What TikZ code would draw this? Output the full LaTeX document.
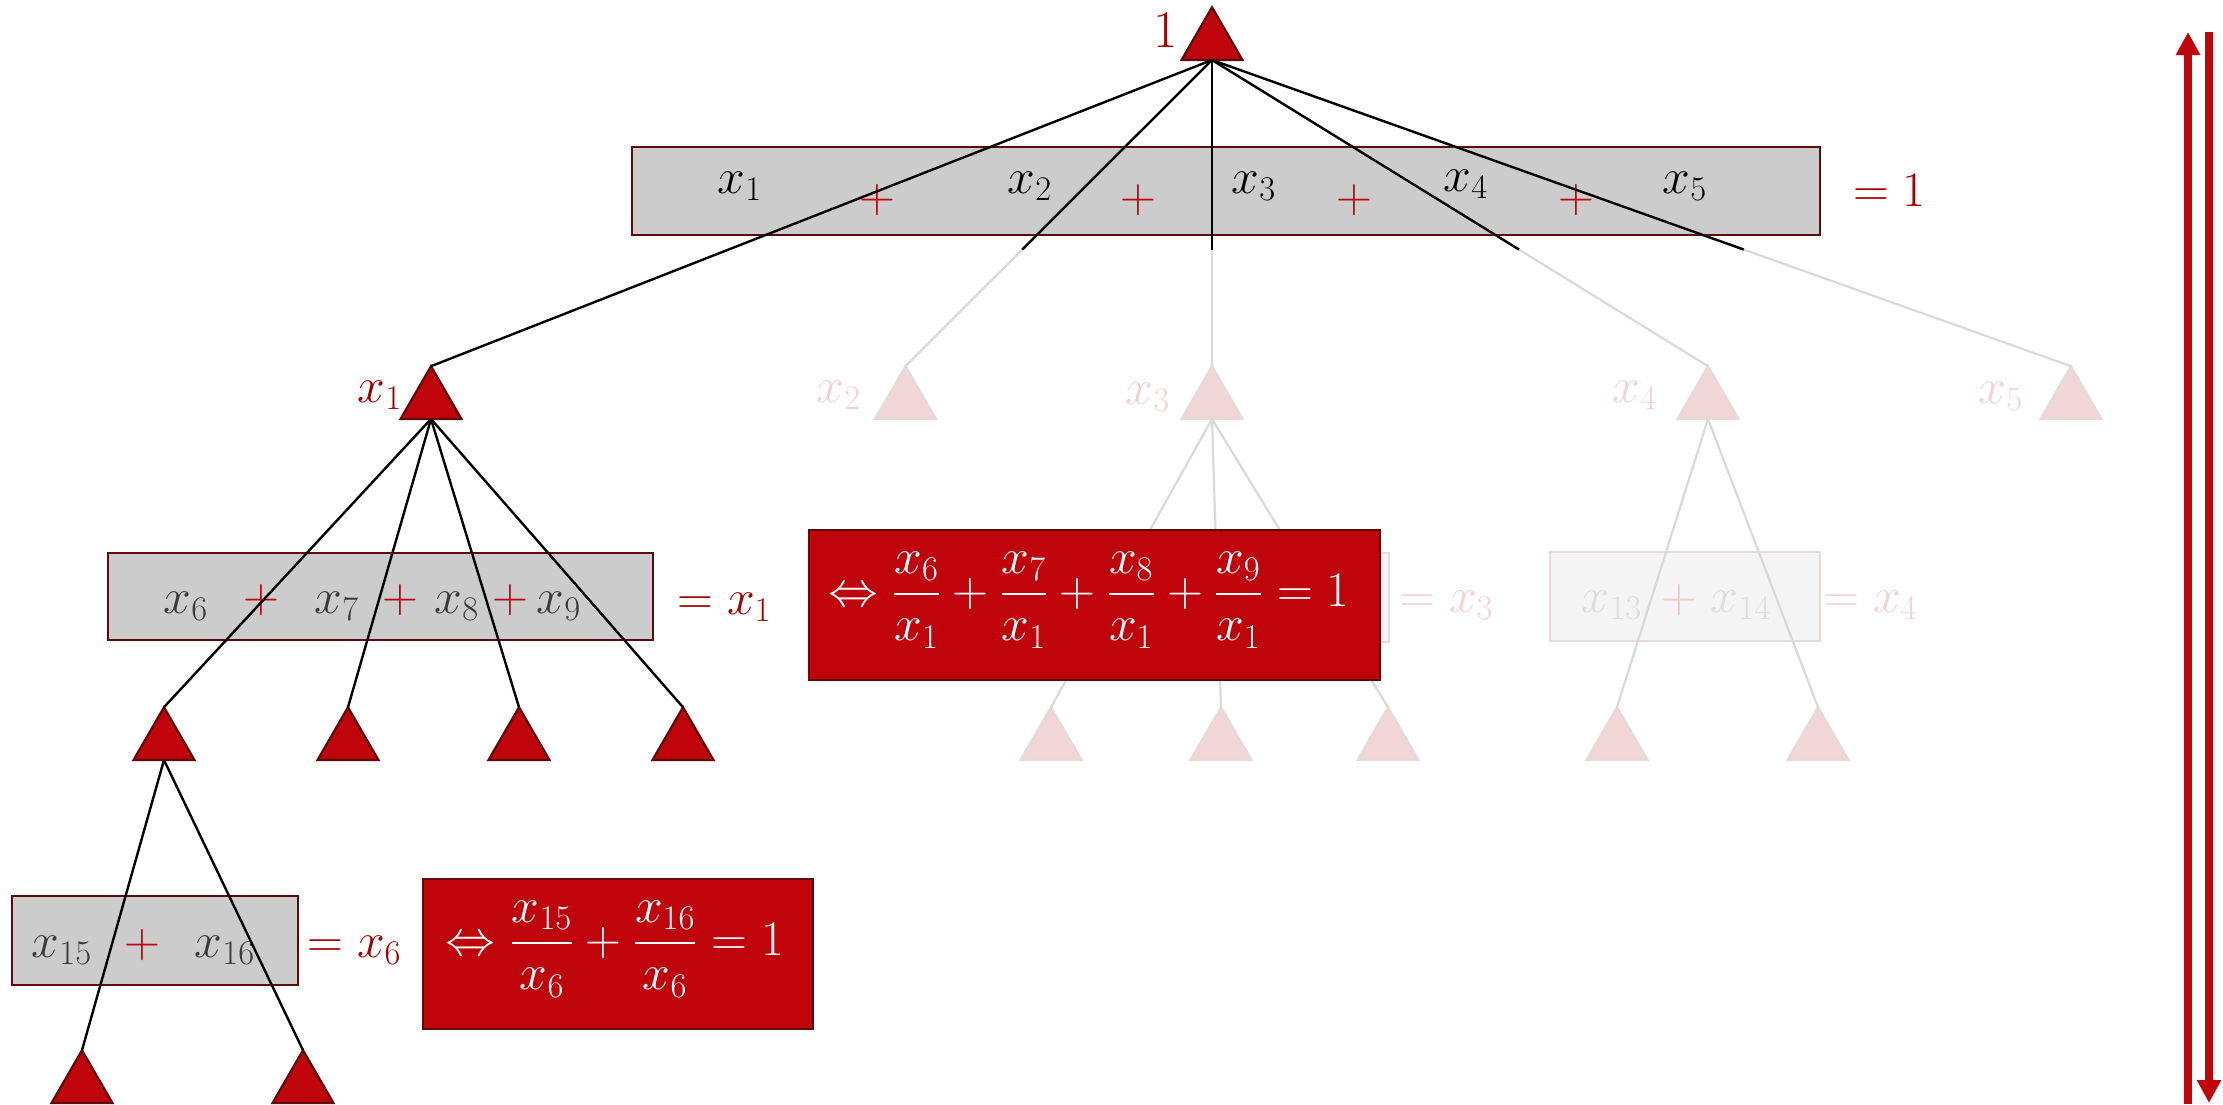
\documentclass[tikz,border=0pt]{standalone}
\usepackage{amsmath}
\usetikzlibrary{shapes.geometric,arrows.meta,calc}
\definecolor{mred}{HTML}{C0040C}
\definecolor{dred}{HTML}{5E0B0B}
\definecolor{lred}{HTML}{A30000}
\definecolor{boxgray}{HTML}{CCCCCC}
\definecolor{ftrifill}{HTML}{F2D5D7}
\definecolor{ftriedge}{HTML}{E5DADA}
\definecolor{flabcol}{HTML}{F2D2D4}
\definecolor{flinecol}{HTML}{D9D9D9}
\definecolor{fboxfill}{HTML}{F4F4F4}
\definecolor{fboxedge}{HTML}{E8D8D8}
\definecolor{ftextcol}{HTML}{DDDDDD}
\definecolor{fpluscol}{HTML}{F0C8C8}
\definecolor{dtext}{HTML}{3A3A3A}
\begin{document}
\begin{tikzpicture}[x=0.5pt,y=-0.5pt,
  font=\fontsize{24}{28}\selectfont,
  big/.style={font=\fontsize{26.5}{30}\selectfont},
  tri/.style={regular polygon, regular polygon sides=3, minimum size=35.2pt, inner sep=0pt, outer sep=0pt, fill=mred, draw=dred, line width=1.1pt},
  fadetri/.style={tri, fill=ftrifill, draw=ftriedge},
  sumbox/.style={rectangle, fill=boxgray, draw=dred, line width=1.3pt, inner sep=0pt, outer sep=0pt},
  fadebox/.style={rectangle, fill=fboxfill, draw=fboxedge, line width=1.3pt, inner sep=0pt, outer sep=0pt},
  redbox/.style={rectangle, fill=mred, draw=dred, line width=1.3pt, inner sep=0pt, outer sep=0pt},
  link/.style={line width=1.2pt, black},
  flink/.style={line width=1.1pt, flinecol},
  lab/.style={big, text=lred, inner sep=0pt, anchor=base},
  flab/.style={big, text=flabcol, inner sep=0pt, anchor=base},
  term/.style={big, inner sep=0pt, anchor=base},
  plus/.style={big, text=mred, inner sep=0pt},
  fplus/.style={big, text=fpluscol, inner sep=0pt},
  arr/.style={line width=4pt, mred}
]
\useasboundingbox (0,0) rectangle (2223,1104);

% boxes
\node[sumbox, minimum width=594pt, minimum height=44pt] (b0) at (1226,191) {};
\node[sumbox, minimum width=272.5pt, minimum height=43.5pt] (b1) at (380.5,596.5) {};
\node[sumbox, minimum width=143pt, minimum height=44.5pt] (b6) at (155,940.5) {};
\node[fadebox, minimum width=194.5pt, minimum height=44.5pt] (b3) at (1194.5,597.5) {};
\node[fadebox, minimum width=135pt, minimum height=44.5pt] (b4) at (1685,596.5) {};

% texts in top box
\node[term] (a1) at (740,193) {$x_1$};
\node[term] (a2) at (1030,193) {$x_2$};
\node[term] (a3) at (1254,193) {$x_3$};
\node[term] (a4) at (1466,191) {$x_4$};
\node[term] (a5) at (1685,193) {$x_5$};
\node[plus] (p1) at (877,200) {$+$};
\node[plus] (p2) at (1138,200) {$+$};
\node[plus] (p3) at (1354,200) {$+$};
\node[plus] (p4) at (1576,200) {$+$};
\node[lab, anchor=base west] (e0) at (1853,206) {${=}\;1$};

% texts in second box
\node[term, text=dtext] (c6) at (186,613) {$x_6$};
\node[term, text=dtext] (c7) at (337,613) {$x_7$};
\node[term, text=dtext] (c8) at (457,613) {$x_8$};
\node[term, text=dtext] (c9) at (559,613) {$x_9$};
\node[plus] (q1) at (261,600) {$+$};
\node[plus] (q2) at (400,600) {$+$};
\node[plus] (q3) at (510,600) {$+$};
\node[lab, anchor=base west] (e1) at (677,614) {${=}\;x_1$};

% faded texts
\node[flab, anchor=base west] (e3) at (1399,612) {${=}\;x_3$};
\node[term, text=ftextcol] (c13) at (1612,612) {$x_{13}$};
\node[fplus] (q13) at (1679,600) {$+$};
\node[term, text=ftextcol] (c14) at (1741,612) {$x_{14}$};
\node[flab, anchor=base west] (e4) at (1823,612) {${=}\;x_4$};

% texts in third box
\node[term, text=dtext] (c15) at (62,957) {$x_{15}$};
\node[plus] (q15) at (142,945) {$+$};
\node[term, text=dtext] (c16) at (225,957) {$x_{16}$};
\node[lab, anchor=base west] (e6) at (307,957) {${=}\;x_6$};

% triangles
\node[tri] (t0) at (1212,42.4) {};
\node[tri] (t1) at (431,401.4) {};
\node[fadetri] (t2) at (905.5,401.4) {};
\node[fadetri] (t3) at (1212,401.4) {};
\node[fadetri] (t4) at (1708,401.4) {};
\node[fadetri] (t5) at (2071,401.4) {};
\node[tri] (t6) at (164,742.4) {};
\node[tri] (t7) at (348,742.4) {};
\node[tri] (t8) at (519,742.4) {};
\node[tri] (t9) at (683,742.4) {};
\node[fadetri] (t10) at (1051,742.4) {};
\node[fadetri] (t11) at (1221,742.4) {};
\node[fadetri] (t12) at (1388,742.4) {};
\node[fadetri] (t13) at (1617,742.4) {};
\node[fadetri] (t14) at (1818,742.4) {};
\node[tri] (t15) at (82,1085.4) {};
\node[tri] (t16) at (303,1085.4) {};

% triangle labels
\node[lab] (l0) at (1166,47) {1};
\node[lab] (l1) at (380,402) {$x_1$};
\node[flab] (l2) at (839,402) {$x_2$};
\node[flab] (l3) at (1148,404) {$x_3$};
\node[flab] (l4) at (1635,402) {$x_4$};
\node[flab] (l5) at (2001,403) {$x_5$};

% faded connectors
\foreach \k in {2,3,4,5} \draw[flink] (t0.side 2) -- (t\k.corner 1);
\foreach \k in {10,11,12} \draw[flink] (t3.side 2) -- (t\k.corner 1);
\foreach \k in {13,14} \draw[flink] (t4.side 2) -- (t\k.corner 1);

% black connectors
\draw[link] (t0.side 2) -- (t1.corner 1);
\foreach \k in {2,3,4,5} \draw[link] (t0.side 2) -- ($(t0.side 2)!0.619!(t\k.corner 1)$);
\foreach \k in {6,7,8,9} \draw[link] (t1.side 2) -- (t\k.corner 1);
\foreach \k in {15,16} \draw[link] (t6.side 2) -- (t\k.corner 1);

% red boxes
\node[redbox, minimum width=285.5pt, minimum height=75pt] (r1) at (1094.5,605) {};
\node[text=white, inner sep=0pt] (f1) at (1089,600)
  {$\Leftrightarrow \dfrac{x_6}{x_1} + \dfrac{x_7}{x_1} + \dfrac{x_8}{x_1} + \dfrac{x_9}{x_1} = 1$};
\node[redbox, minimum width=195pt, minimum height=75pt] (r2) at (618,954) {};
\node[text=white, inner sep=0pt] (f2) at (615,949)
  {$\Leftrightarrow \dfrac{x_{15}}{x_6} + \dfrac{x_{16}}{x_6} = 1$};

% arrows
\coordinate (u0) at (2188,1104);
\coordinate (u1) at (2188,32);
\coordinate (d0) at (2209,32);
\coordinate (d1) at (2209,1103);
\draw[arr, -{Triangle[width=11.5pt,length=11.5pt]}] (u0) -- (u1);
\draw[arr, -{Triangle[width=11.5pt,length=11.5pt]}] (d0) -- (d1);
\end{tikzpicture}
\end{document}
